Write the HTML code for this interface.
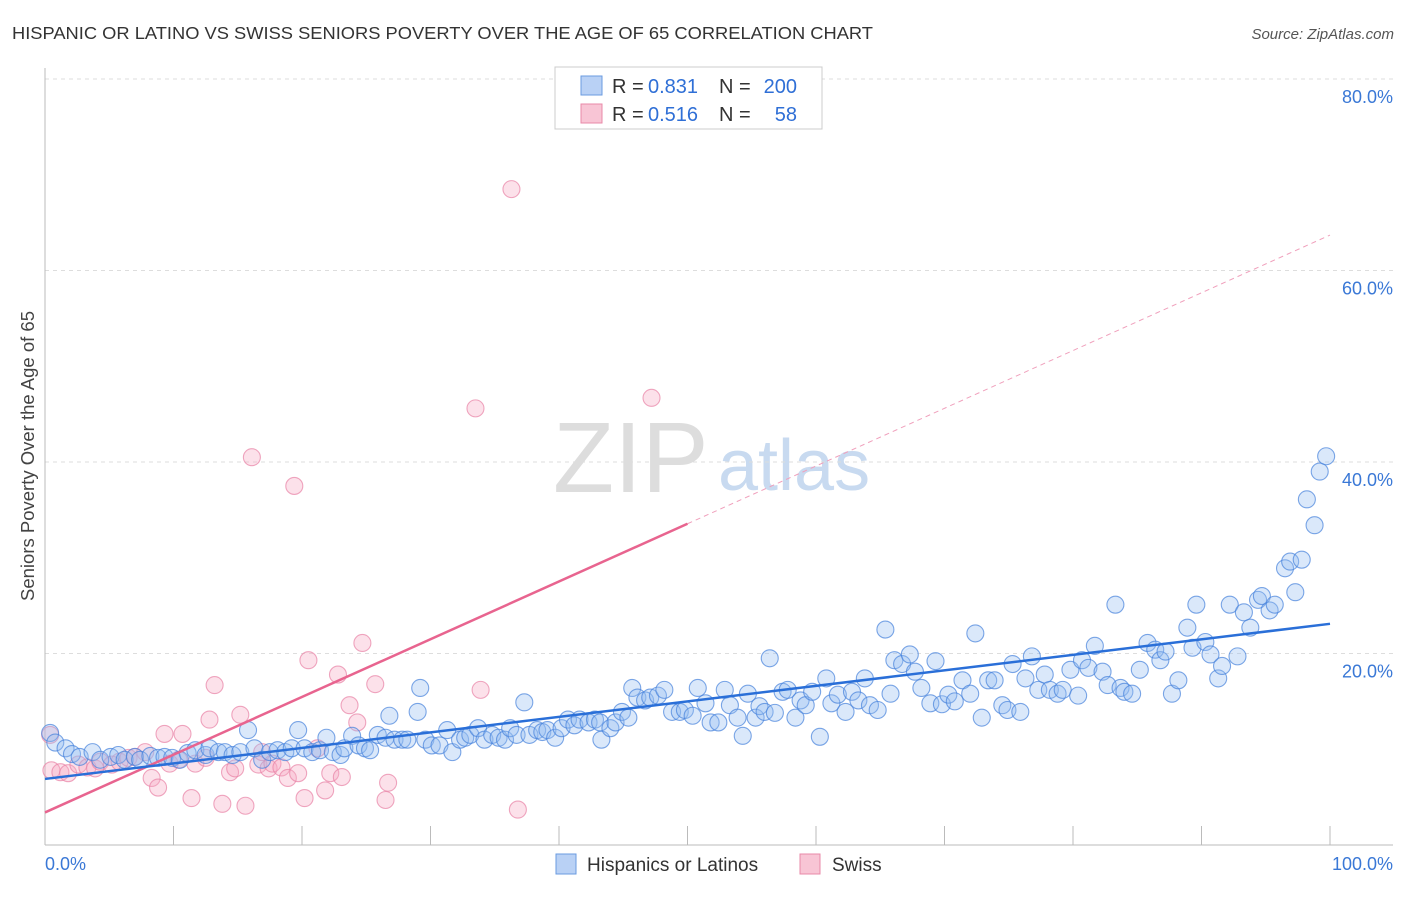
<!DOCTYPE html>
<html><head><meta charset="utf-8"><style>
body{margin:0;background:#fff;font-family:"Liberation Sans",sans-serif;}
svg text{font-family:"Liberation Sans",sans-serif;}
</style></head><body>
<svg id="chart" width="1406" height="892">
<text x="12" y="39" font-size="17.5" fill="#333" textLength="861" lengthAdjust="spacingAndGlyphs">HISPANIC OR LATINO VS SWISS SENIORS POVERTY OVER THE AGE OF 65 CORRELATION CHART</text>
<text x="1394" y="39" font-size="15" fill="#555" font-style="italic" text-anchor="end">Source: ZipAtlas.com</text>
<g><text x="553" y="492" font-size="100" font-family="Liberation Serif,serif" fill="#ddd">ZIP</text><text x="718" y="490" font-size="72" fill="#c8daf0">atlas</text></g>
<g id="grid"></g><g id="axes"></g><g id="pts"></g><g id="lines"></g>
<text x="34" y="456" font-size="18.5" fill="#444" text-anchor="middle" transform="rotate(-90 34 456)">Seniors Poverty Over the Age of 65</text>
<g>
<rect x="555" y="67" width="267" height="62" fill="#fff" stroke="#ccc"/>
<rect x="581" y="76" width="21" height="19" fill="#b9d1f5" stroke="#6a9be0"/>
<rect x="581" y="104" width="21" height="19" fill="#f8c5d5" stroke="#e889a8"/>
<text x="612" y="93" font-size="20" fill="#333">R =</text>
<text x="648" y="93" font-size="20" fill="#2f6fd6">0.831</text>
<text x="719" y="93" font-size="20" fill="#333">N =</text>
<text x="797" y="93" font-size="20" fill="#2f6fd6" text-anchor="end">200</text>
<text x="612" y="121" font-size="20" fill="#333">R =</text>
<text x="648" y="121" font-size="20" fill="#2f6fd6">0.516</text>
<text x="719" y="121" font-size="20" fill="#333">N =</text>
<text x="797" y="121" font-size="20" fill="#2f6fd6" text-anchor="end">58</text>
</g>
<g>
<rect x="556" y="854" width="20" height="20" fill="#b9d1f5" stroke="#6a9be0"/>
<text x="587" y="871" font-size="19" fill="#333">Hispanics or Latinos</text>
<rect x="800" y="854" width="20" height="20" fill="#f8c5d5" stroke="#e889a8"/>
<text x="832" y="871" font-size="19" fill="#333">Swiss</text>
</g>
</svg>
<script>
const yTicks=[20,40,60,80];
const yTickLabels=["20.0%","40.0%","60.0%","80.0%"];
const xTicks=[10,20,30,40,50,60,70,80,90,100];
const blueX=[0.4,0.8,1.6,2.1,2.7,3.7,4.3,5.1,5.7,6.2,7.0,7.4,8.2,8.8,9.3,9.9,10.5,11.1,11.7,12.5,12.8,13.5,14.0,14.6,15.2,15.8,16.3,16.9,17.5,18.1,18.7,19.2,19.7,20.2,20.8,21.4,21.9,22.4,23.0,23.3,23.9,24.4,24.9,25.3,25.9,26.5,26.8,27.2,27.8,28.2,29.2,29.0,29.6,30.1,30.7,31.3,31.7,32.3,32.7,33.1,33.7,34.2,34.8,35.3,35.8,36.2,36.7,37.3,37.7,38.3,38.7,39.1,39.7,40.2,40.7,41.2,41.6,42.3,42.8,43.2,43.3,44.0,44.4,44.9,45.4,45.7,46.1,46.7,47.1,47.7,48.2,48.8,49.4,49.8,50.4,50.8,51.4,51.8,52.4,52.9,53.3,53.9,54.3,54.7,55.3,55.6,56.0,56.4,56.8,57.4,57.8,58.4,58.8,59.2,59.7,60.3,60.8,61.2,61.7,62.3,62.8,63.3,63.8,64.2,64.8,65.4,65.8,66.1,66.7,67.3,67.7,68.2,68.9,69.3,69.8,70.3,70.8,71.4,72.0,72.4,72.9,73.4,73.9,74.5,74.9,75.3,75.9,76.3,76.8,77.3,77.8,78.2,78.8,79.2,79.8,80.4,80.7,81.2,81.7,82.3,82.7,83.3,83.7,84.0,84.6,85.2,85.8,86.4,86.8,87.2,87.7,88.2,88.9,89.3,89.6,90.3,90.7,91.3,91.6,92.2,92.8,93.3,93.8,94.4,94.7,95.3,95.7,96.5,96.9,97.3,97.8,98.2,98.8,99.2,99.7];
const blueY=[11.7,10.7,10.1,9.5,9.2,9.7,8.9,9.2,9.4,8.9,9.2,8.9,9.3,9.1,9.2,9.1,8.9,9.6,9.9,9.4,10.1,9.7,9.7,9.4,9.7,12.0,10.1,8.9,9.7,9.9,9.7,10.1,12.0,10.1,9.7,9.9,11.2,9.7,9.4,10.1,11.4,10.4,10.1,9.9,11.5,11.2,13.5,11.0,11.0,11.0,16.4,13.9,11.0,10.4,10.4,12.0,9.7,11.0,11.2,11.5,12.2,11.0,11.5,11.2,11.0,12.2,11.5,14.9,11.5,12.0,11.8,12.0,11.2,12.2,13.1,12.5,13.1,12.8,13.1,12.8,11.0,12.2,12.8,13.9,13.3,16.4,15.4,15.1,15.4,15.6,16.2,13.9,13.9,14.1,13.5,16.4,14.8,12.8,12.8,16.2,14.6,13.3,11.4,15.8,13.3,14.5,13.9,19.5,13.8,16.0,16.2,13.3,15.1,14.6,16.0,11.3,17.4,14.8,15.7,13.9,16.0,15.1,17.4,14.6,14.1,22.5,15.8,19.3,18.9,19.9,18.1,16.4,14.8,19.2,14.7,15.7,15.0,17.2,15.8,22.1,13.3,17.2,17.2,14.6,14.1,18.9,13.9,17.4,19.7,16.2,17.8,16.2,15.8,16.2,18.3,15.6,19.3,18.5,20.8,18.1,16.7,25.1,16.4,16.0,15.8,18.3,21.1,20.4,19.3,20.2,15.8,17.2,22.7,20.6,25.1,21.2,19.9,17.4,18.7,25.1,19.7,24.3,22.7,25.6,26.0,24.5,25.1,28.9,29.6,26.4,29.8,36.1,33.4,39.0,40.6];
const pinkX=[0.4,0.5,1.2,1.8,2.6,3.3,3.9,4.3,5.2,5.8,6.5,7.0,7.8,8.3,8.8,9.3,9.7,10.4,10.7,11.4,11.7,12.5,12.8,13.2,13.8,14.4,14.8,15.2,15.6,16.1,16.6,16.9,17.4,17.7,18.4,18.9,19.4,19.7,20.2,20.5,21.2,21.8,22.2,22.8,23.1,23.7,24.3,24.7,25.7,26.5,26.7,33.5,33.9,36.3,36.8,47.2];
const pinkY=[11.5,7.8,7.6,7.5,8.4,8.1,8.0,8.7,8.4,8.7,9.1,9.2,9.7,7.0,6.0,11.6,8.5,8.9,11.6,4.9,8.5,9.1,13.1,16.7,4.3,7.6,8.0,13.6,4.1,40.5,8.4,9.7,8.0,8.5,8.1,7.0,37.5,7.5,4.9,19.3,10.1,5.7,7.5,17.8,7.1,14.6,12.8,21.1,16.8,4.7,6.5,45.6,16.2,68.5,3.7,46.7];
const blueFit=[6.9,23.1];
const pinkFit=[3.4,63.7];
const pinkSolidEnd=50;

const NS="http://www.w3.org/2000/svg";
const X0=45,X1=1330,Y0=845,Y1=79;
const sx=v=>X0+(X1-X0)*v/100;
const sy=v=>Y0-(Y0-Y1)*v/80;
function mk(tag,attrs,parent){const e=document.createElementNS(NS,tag);for(const k in attrs)e.setAttribute(k,attrs[k]);parent.appendChild(e);return e;}
const grid=document.getElementById('grid'),axes=document.getElementById('axes'),pts=document.getElementById('pts'),lines=document.getElementById('lines');
yTicks.forEach((t,i)=>{
 const l=mk('line',{x1:X0,x2:1393,y1:sy(t),y2:sy(t),stroke:'#ddd','stroke-dasharray':'4,4'},grid);
 
 
 const tx=mk('text',{x:1393,y:sy(t)+24,'font-size':18,fill:'#3a78d6','text-anchor':'end'},grid);
 tx.textContent=yTickLabels[i];
 
 
});
const ya=mk('line',{x1:X0,x2:X0,y1:68,y2:Y0,stroke:'#bbb'},axes);


const xa=mk('line',{x1:X0,x2:1393,y1:Y0,y2:Y0,stroke:'#bbb'},axes);


xTicks.forEach(t=>{
 const l=mk('line',{x1:sx(t),x2:sx(t),y1:Y0-19,y2:Y0,stroke:'#bbb'},axes);
 
 
});
const xl0=mk('text',{x:45,y:870,'font-size':18,fill:'#3a78d6'},axes);xl0.textContent='0.0%';


const xl1=mk('text',{x:1393,y:870,'font-size':18,fill:'#3a78d6','text-anchor':'end'},axes);xl1.textContent='100.0%';


pinkX.forEach((x,i)=>{
 const c=mk('circle',{cx:sx(x),cy:sy(pinkY[i]),r:8.5,fill:'rgba(246,170,195,0.35)',stroke:'rgba(232,130,165,0.7)','stroke-width':1.1},pts);
 
 
});
blueX.forEach((x,i)=>{
 const c=mk('circle',{cx:sx(x),cy:sy(blueY[i]),r:8.5,fill:'rgba(150,188,240,0.35)',stroke:'rgba(70,130,220,0.7)','stroke-width':1.1},pts);
 
 
});
const pm=pinkFit[0]+(pinkFit[1]-pinkFit[0])*pinkSolidEnd/100;
const pd=mk('line',{x1:sx(pinkSolidEnd),y1:sy(pm),x2:sx(100),y2:sy(pinkFit[1]),stroke:'#f0a0bc','stroke-width':1,'stroke-dasharray':'5,4'},lines);


const ps=mk('line',{x1:sx(0),y1:sy(pinkFit[0]),x2:sx(pinkSolidEnd),y2:sy(pm),stroke:'#e8648f','stroke-width':2.5},lines);


const bl=mk('line',{x1:sx(0),y1:sy(blueFit[0]),x2:sx(100),y2:sy(blueFit[1]),stroke:'#2a6fd8','stroke-width':2.5},lines);


</script>
</body></html>
